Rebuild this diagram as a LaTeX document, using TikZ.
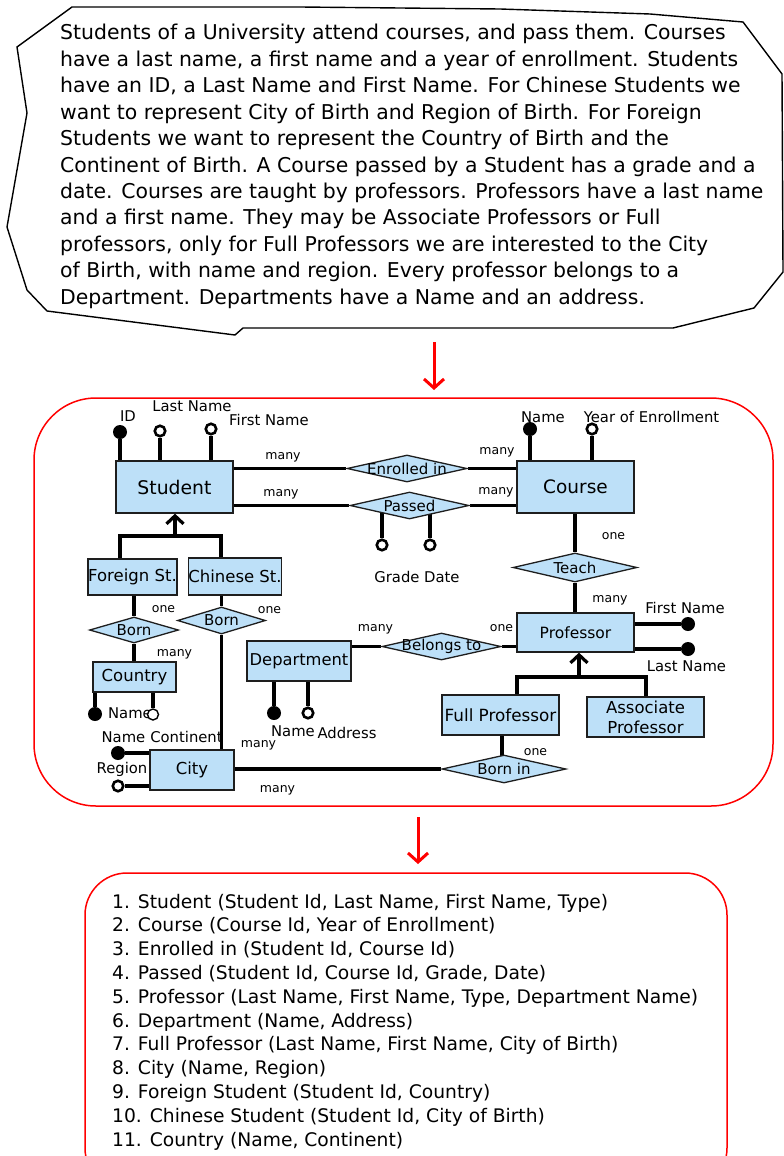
\documentclass[tikz,border=0pt]{standalone}
\usepackage{fontspec}
\setmainfont{DejaVu Sans}
\usetikzlibrary{shapes.geometric,arrows.meta}
\definecolor{erblue}{RGB}{189,224,248}
\definecolor{boxline}{RGB}{30,30,30}
\pgfdeclarelayer{bg}
\pgfsetlayers{bg,main}
\newcommand{\fsz}[1]{\fontsize{#1}{#1}\selectfont}
\begin{document}
\begin{tikzpicture}[x=1pt,y=-1pt,
  ent/.style={draw=boxline, line width=1.3pt, fill=erblue, inner sep=0pt, align=center},
  rel/.style={diamond, draw=boxline, line width=1.3pt, fill=erblue, inner sep=0pt},
  conn/.style={line width=3.2pt},
  katt/.style={circle, fill=black, inner sep=0pt, minimum size=14pt},
  oatt/.style={circle, draw=black, line width=2.6pt, fill=white, inner sep=0pt, minimum size=10.5pt},
  card/.style={font=\fsz{12.5}, inner sep=0pt},
  alab/.style={font=\fsz{14.8}, inner sep=0pt},
  rlab/.style={font=\fsz{15}, inner sep=0pt},
  txt/.style={anchor=base west, inner sep=0pt, font=\fsz{20.4}},
  lst/.style={anchor=base west, inner sep=0pt, font=\fsz{18.7}},
  redarr/.style={red, line width=3pt, -{Straight Barb[length=9pt,width=20pt]}},
  genarr/.style={line width=3.2pt, -{Straight Barb[length=8pt,width=17pt]}}
]
\useasboundingbox (0,0) rectangle (784,1156);

% ---------- callout ----------
\draw[line width=1.4pt] (72,7) -- (300,7) -- (500,9) -- (650,14) -- (743,22) -- (782,74)
  -- (783,272) -- (754,308) -- (673,328) -- (243,328) -- (235,335) -- (47,311) -- (27,290)
  -- (7,227) -- (27,113) -- (17,47) -- cycle;
\node[txt] (t1) at (60,40) {Students of a University attend courses, and pass them. Courses};
\node[txt] (t2) at (60,66.4) {have a last name, a first name and a year of enrollment. Students};
\node[txt] (t3) at (60,92.8) {have an ID, a Last Name and First Name. For Chinese Students we};
\node[txt] (t4) at (60,119.2) {want to represent City of Birth and Region of Birth. For Foreign};
\node[txt] (t5) at (60,145.6) {Students we want to represent the Country of Birth and the};
\node[txt] (t6) at (60,172) {Continent of Birth. A Course passed by a Student has a grade and a};
\node[txt] (t7) at (60,198.4) {date. Courses are taught by professors. Professors have a last name};
\node[txt] (t8) at (60,224.8) {and a first name. They may be Associate Professors or Full};
\node[txt] (t9) at (60,251.2) {professors, only for Full Professors we are interested to the City};
\node[txt] (t10) at (60,277.6) {of Birth, with name and region. Every professor belongs to a};
\node[txt] (t11) at (60,304) {Department. Departments have a Name and an address.};

% ---------- red arrows ----------
\coordinate (a1s) at (434,342);
\coordinate (a1e) at (434,390);
\draw[redarr] (a1s) -- (a1e);
\coordinate (a2s) at (418,817);
\coordinate (a2e) at (418,864);
\draw[redarr] (a2s) -- (a2e);

% ---------- ER frame ----------
\draw[red, line width=1.5pt, rounded corners=62pt] (34,398) rectangle (773,806);

% ---------- entities ----------
\node[ent, minimum width=117pt, minimum height=52pt, font=\fsz{18.8}] (student) at (174.5,487) {Student};
\node[ent, minimum width=117pt, minimum height=52pt, font=\fsz{18.5}] (course) at (575.5,487) {Course};
\node[ent, minimum width=117pt, minimum height=39pt, font=\fsz{15.5}] (prof) at (575.5,632.5) {Professor};
\node[ent, minimum width=104pt, minimum height=40pt, font=\fsz{16.3}] (dept) at (299,661) {Department};
\node[ent, minimum width=117pt, minimum height=40pt, font=\fsz{16.8}] (fullp) at (500.5,715) {Full Professor};
\node[ent, minimum width=117pt, minimum height=40pt, font=\fontsize{16.5}{20}\selectfont, align=center] (assoc) at (645.5,717) {Associate\\Professor};
\node[ent, minimum width=84pt, minimum height=40pt, font=\fsz{16.5}] (city) at (192,770) {City};
\node[ent, minimum width=83pt, minimum height=30pt, font=\fsz{16.5}] (country) at (134.5,677) {Country};
\node[ent, minimum width=89pt, minimum height=36pt, font=\fsz{16.5}] (foreign) at (132.5,577) {Foreign St.};
\node[ent, minimum width=88pt, minimum height=37pt, font=\fsz{16.5}] (chinese) at (235,576.5) {Chinese St.};

% ---------- relationships ----------
\node[rel, minimum width=120pt, minimum height=27pt] (enr) at (407,468.5) {};
\node[rlab] (enrt) at (enr) {Enrolled in};
\node[rel, minimum width=119pt, minimum height=27pt] (pas) at (409.5,505.5) {};
\node[rlab] (past) at (pas) {Passed};
\node[rel, minimum width=124pt, minimum height=29pt] (teach) at (575,567.5) {};
\node[rlab] (teacht) at (teach) {Teach};
\node[rel, minimum width=119pt, minimum height=27pt] (belong) at (441.5,646.5) {};
\node[rlab] (belongt) at (belong) {Belongs to};
\node[rel, minimum width=124pt, minimum height=28pt] (bornin) at (504,769) {};
\node[rlab] (bornint) at (bornin) {Born in};
\node[rel, minimum width=89pt, minimum height=26pt] (bornf) at (134,630) {};
\node[rlab] (bornft) at (bornf) {Born};
\node[rel, minimum width=88pt, minimum height=27pt] (bornc) at (221.5,620.5) {};
\node[rlab] (bornct) at (bornc) {Born};

% ---------- attribute circles ----------
\node[katt] (sid) at (120,432) {};
\node[oatt] (sln) at (160,431) {};
\node[oatt] (sfn) at (211,429) {};
\node[katt] (cname) at (530,429) {};
\node[oatt] (cyear) at (592,429) {};
\node[oatt] (pgrade) at (382,545) {};
\node[oatt] (pdate) at (430,545) {};
\node[katt] (pfn) at (688,624) {};
\node[katt] (pln) at (688,649) {};
\node[katt] (dname) at (274,713) {};
\node[oatt] (daddr) at (308,713) {};
\node[katt] (cityname) at (118,753) {};
\node[oatt] (cityreg) at (118,786) {};
\node[katt] (coname) at (95,714) {};

% ---------- attribute labels ----------
\node[alab] (lid) at (128,416) {ID};
\node[alab] (lln) at (192,406) {Last Name};
\node[alab] (lfn) at (269,420) {First Name};
\node[alab] (lcname) at (543,417) {Name};
\node[alab] (lcyear) at (651.5,417) {Year of Enrollment};
\node[alab] (lgd) at (417,577) {Grade Date};
\node[alab] (lpfn) at (685,608) {First Name};
\node[alab] (lpln) at (686.5,666) {Last Name};
\node[alab] (ldname) at (293,731) {Name};
\node[alab] (ldaddr) at (347,732.5) {Address};
\node[alab] (lcityn) at (123.5,737.5) {Name};
\node[alab] (lcityr) at (122,769) {Region};
\node[alab] (lcont) at (186.5,737) {Continent};
\node[alab] (lconame) at (130,713) {Name};
\node[circle, draw=black, line width=1.4pt, fill=white, inner sep=0pt, minimum width=11pt] (cocont) at (153,714.5) {};

% ---------- cardinalities ----------
\node[card] (c1) at (283,457) {many};
\node[card] (c2) at (281,494) {many};
\node[card] (c3) at (497,452) {many};
\node[card] (c4) at (496,492) {many};
\node[card] (c5) at (613.5,536) {one};
\node[card] (c6) at (610,600.5) {many};
\node[card] (c7) at (375.5,629) {many};
\node[card] (c8) at (501.5,628) {one};
\node[card] (c9) at (535.5,752) {one};
\node[card] (c10) at (277.5,790) {many};
\node[card] (c11) at (258.5,745) {many};
\node[card] (c12) at (163.5,609.5) {one};
\node[card] (c13) at (174.5,654) {many};
\node[card] (c14) at (269.5,610) {one};

% ---------- generalization points ----------
\coordinate (sbar) at (175,536);
\coordinate (pbar) at (579,677);

% ---------- connectors (background) ----------
\begin{pgfonlayer}{bg}
  \draw[conn] (sid) -- (sid |- student.north);
  \draw[conn] (sln) -- (sln |- student.north);
  \draw[conn] (sfn) -- (sfn |- student.north);
  \draw[conn] (cname) -- (cname |- course.north);
  \draw[conn] (cyear) -- (cyear |- course.north);
  \draw[conn] (student.east |- enr) -- (enr) -- (course.west |- enr);
  \draw[conn] (student.east |- pas) -- (pas) -- (course.west |- pas);
  \draw[conn] (pgrade) -- (pgrade |- pas);
  \draw[conn] (pdate) -- (pdate |- pas);
  \draw[conn] (course.south -| teach) -- (teach) -- (prof.north -| teach);
  \draw[conn] (prof.east |- pfn) -- (pfn);
  \draw[conn] (prof.east |- pln) -- (pln);
  \draw[conn] (dept.east |- belong) -- (belong) -- (prof.west |- belong);
  \draw[conn] (dname) -- (dname |- dept.south);
  \draw[conn] (daddr) -- (daddr |- dept.south);
  \draw[conn] (fullp.north -| 517,0) |- (pbar) -| (assoc.north -| 646,0);
  \draw[genarr] (pbar) -- (pbar |- prof.south);
  \draw[conn] (fullp.south -| 502,0) -- (bornin.center -| 502,0);
  \draw[conn] (city.east |- bornin) -- (bornin);
  \draw[conn] (cityname) -- (city.west |- cityname);
  \draw[conn] (cityreg) -- (city.west |- cityreg);
  \draw[conn] (foreign.north -| 120,0) |- (sbar) -| (chinese.north -| 221,0);
  \draw[genarr] (sbar) -- (sbar |- student.south);
  \draw[conn] (foreign.south -| bornf) -- (bornf) -- (country.north -| bornf);
  \draw[conn] (chinese.south -| bornc) -- (bornc) -- (city.north -| bornc);
  \draw[conn] (coname) -- (coname |- country.south);
  \draw[conn] (cocont) -- (cocont |- country.south);
\end{pgfonlayer}

% ---------- relational schema ----------
\begin{scope}
  \clip (0,0) rectangle (784,1156);
  \draw[red, line width=1.5pt, rounded corners=42pt] (85,873) rectangle (727,1190);
\end{scope}
\node[lst] (l1) at (112,908) {1. Student (Student Id, Last Name, First Name, Type)};
\node[lst] (l2) at (112,931.8) {2. Course (Course Id, Year of Enrollment)};
\node[lst] (l3) at (112,955.6) {3. Enrolled in (Student Id, Course Id)};
\node[lst] (l4) at (112,979.4) {4. Passed (Student Id, Course Id, Grade, Date)};
\node[lst] (l5) at (112,1003.2) {5. Professor (Last Name, First Name, Type, Department Name)};
\node[lst] (l6) at (112,1027) {6. Department (Name, Address)};
\node[lst] (l7) at (112,1050.8) {7. Full Professor (Last Name, First Name, City of Birth)};
\node[lst] (l8) at (112,1074.6) {8. City (Name, Region)};
\node[lst] (l9) at (112,1098.4) {9. Foreign Student (Student Id, Country)};
\node[lst] (l10) at (112,1122.2) {10. Chinese Student (Student Id, City of Birth)};
\node[lst] (l11) at (112,1146) {11. Country (Name, Continent)};
\end{tikzpicture}
\end{document}
